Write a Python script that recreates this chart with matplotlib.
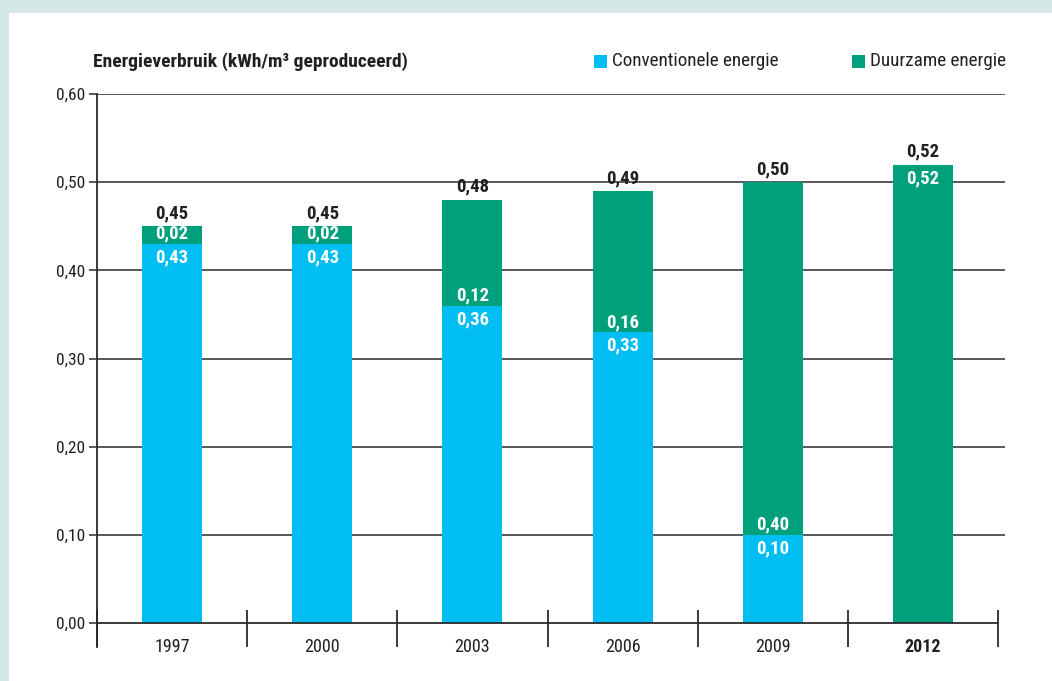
import matplotlib.pyplot as plt
from matplotlib import font_manager
from matplotlib.patches import Rectangle

namen = {f.name for f in font_manager.fontManager.ttflist}
kandidaten = ['Liberation Sans Narrow', 'DejaVu Sans Condensed', 'Roboto Condensed', 'Liberation Sans']
gekozen = [n for n in kandidaten if n in namen] + ['DejaVu Sans']
plt.rcParams['font.family'] = gekozen

# data
jaren = ['1997', '2000', '2003', '2006', '2009', '2012']
conventioneel = [0.43, 0.43, 0.36, 0.33, 0.10, 0.00]
duurzaam = [0.02, 0.02, 0.12, 0.16, 0.40, 0.52]
totaal = [0.45, 0.45, 0.48, 0.49, 0.50, 0.52]
yticks = [0.0, 0.1, 0.2, 0.3, 0.4, 0.5, 0.6]

c_conv = '#00bdf2'
c_duur = '#00a07d'
c_txt = '#231f20'
W, H = 1052, 681

def nl(v):
    return f'{v:.2f}'.replace('.', ',')

fig = plt.figure(figsize=(W / 100, H / 100), dpi=100, facecolor='#d3e8e7')
# witte achtergrond
fig.add_artist(Rectangle((9 / W, 0), 1, 1 - 13 / H, transform=fig.transFigure,
                         facecolor='white', edgecolor='none', zorder=0))

ax = fig.add_axes([97 / W, 34 / H, (1005 - 97) / W, (647 - 94) / H])
ax.set_facecolor('none')

x = list(range(len(jaren)))
ymin = -24 / 882
ax.set_ylim(ymin, 0.6)
ax.set_xlim(-0.5, 5.5 + 7 / 150.2)

for y in yticks[1:]:
    ax.axhline(y, color='#2b2b2b', lw=1.1, zorder=1)
ax.plot([-0.5, 5.5], [0, 0], color='#2b2b2b', lw=1.3, zorder=3, clip_on=False)
ax.vlines([i - 0.5 for i in range(len(jaren) + 1)], ymin, 13 / 882,
          color='#2b2b2b', lw=1.3, zorder=3, clip_on=False)

ax.bar(x, conventioneel, width=0.4, color=c_conv, zorder=2)
ax.bar(x, duurzaam, width=0.4, bottom=conventioneel, color=c_duur, zorder=2)

fs = 13.5
for i in x:
    c, d, t = conventioneel[i], duurzaam[i], totaal[i]
    ax.annotate(nl(t), (i, c + d), xytext=(0, 13 * 0.72), textcoords='offset points',
                ha='center', va='center', fontsize=fs, fontweight='bold', color=c_txt)
    if c > 0:
        ax.annotate(nl(d), (i, c), xytext=(0, 10 * 0.72), textcoords='offset points',
                    ha='center', va='center', fontsize=fs, fontweight='bold', color='white')
        ax.annotate(nl(c), (i, c), xytext=(0, -13.5 * 0.72), textcoords='offset points',
                    ha='center', va='center', fontsize=fs, fontweight='bold', color='white')
    else:
        ax.annotate(nl(d), (i, c + d), xytext=(0, -14 * 0.72), textcoords='offset points',
                    ha='center', va='center', fontsize=fs, fontweight='bold', color='white')

for s in ['top', 'right', 'bottom']:
    ax.spines[s].set_visible(False)
ax.spines['left'].set_color('#2b2b2b')
ax.spines['left'].set_linewidth(1.3)

ax.set_yticks(yticks)
ax.set_yticklabels([nl(v) for v in yticks])
ax.tick_params(axis='y', length=8 * 0.72, width=1.1, color='#2b2b2b', pad=3,
               labelsize=12.5, labelcolor=c_txt)
ax.set_xticks(x)
ax.set_xticklabels(jaren)
ax.tick_params(axis='x', length=0, pad=-9 * 0.72, labelsize=13, labelcolor=c_txt)
ax.get_xticklabels()[-1].set_fontweight('bold')

fig.text(93 / W, 1 - 62 / H, 'Energieverbruik (kWh/m³ geproduceerd)', ha='left', va='center',
         fontsize=14, fontweight='bold', color=c_txt)

for x0, col, lab in [(594, c_conv, 'Conventionele energie'), (852, c_duur, 'Duurzame energie')]:
    fig.add_artist(Rectangle((x0 / W, 1 - 68 / H), 13 / W, 13 / H, transform=fig.transFigure,
                             facecolor=col, edgecolor='none'))
    fig.text((x0 + 18) / W, 1 - 61.5 / H, lab, ha='left', va='center', fontsize=13.8, color=c_txt)

fig.savefig('out.png', dpi=100, facecolor=fig.get_facecolor())
